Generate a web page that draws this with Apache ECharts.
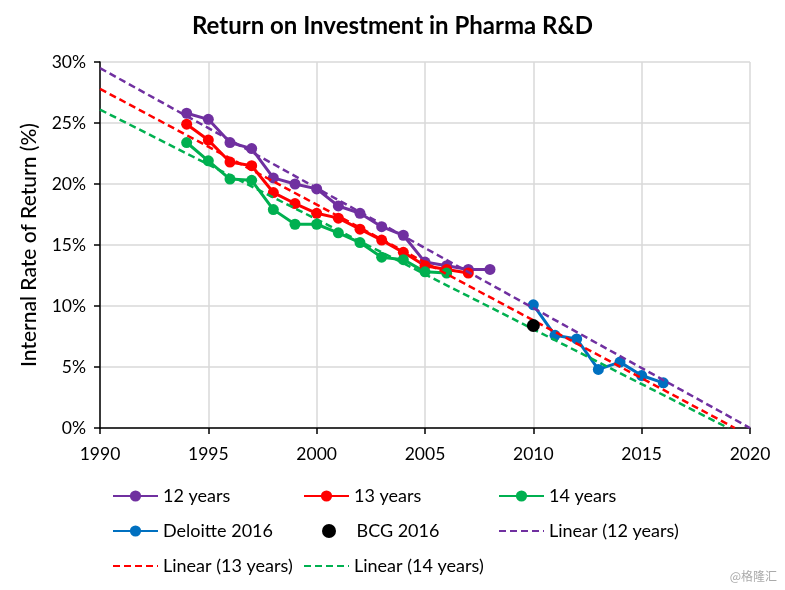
<!DOCTYPE html>
<html><head><meta charset="utf-8">
<script src="https://cdn.jsdelivr.net/npm/echarts@6/dist/echarts.min.js"></script>
<style>html,body{margin:0;padding:0;background:#fff}#c{width:785px;height:590px}</style>
</head><body><div id="c"></div>
<script>
const years12 = [1994,1995,1996,1997,1998,1999,2000,2001,2002,2003,2004,2005,2006,2007,2008];
const irr12 = [25.8,25.3,23.4,22.9,20.5,20.0,19.6,18.2,17.6,16.5,15.8,13.6,13.3,13.0,13.0];
const years13 = [1994,1995,1996,1997,1998,1999,2000,2001,2002,2003,2004,2005,2006,2007];
const irr13 = [24.9,23.6,21.8,21.5,19.3,18.4,17.6,17.2,16.3,15.4,14.4,13.3,13.0,12.7];
const years14 = [1994,1995,1996,1997,1998,1999,2000,2001,2002,2003,2004,2005,2006];
const irr14 = [23.4,21.9,20.4,20.3,17.9,16.7,16.7,16.0,15.2,14.0,13.8,12.8,12.7];
const yearsDeloitte = [2010,2011,2012,2013,2014,2015,2016];
const irrDeloitte = [10.1,7.6,7.3,4.8,5.4,4.3,3.7];
const bcgYear = [2010];
const bcgIrr = [8.4];
const trend12X = [1990, 2020.0];
const trend12Y = [29.5, 0];
const trend13X = [1990, 2019.3];
const trend13Y = [27.8, 0];
const trend14X = [1990, 2019.0];
const trend14Y = [26.1, 0];
const xTicks = [1990, 2020, 5];
const yTicks = [0, 30, 5];

const FONT = 'Lato';
const zip = (xs, ys) => xs.map((x, i) => [x, ys[i]]);
const C12 = '#7030a0', C13 = '#ff0000', C14 = '#00b050', CD = '#0070c0', CB = '#000000';

function lineSeries(name, xs, ys, color) {
  return { name, type: 'line', data: zip(xs, ys), symbol: 'circle', symbolSize: 11,
    itemStyle: { color }, lineStyle: { color, width: 3 }, z: 3 };
}
function trendSeries(name, xs, ys, color) {
  return { name, type: 'line', data: zip(xs, ys), symbol: 'none', showSymbol: false, silent: true,
    lineStyle: { color, width: 2.5, type: [7, 4] }, itemStyle: { color }, z: 4 };
}
const legendRows = [
  ['12 years', 107, 494, false], ['13 years', 298, 494, false], ['14 years', 493, 494, false],
  ['Deloitte 2016', 107, 529, false], ['BCG 2016', 317, 529, false], ['Linear (12 years)', 493, 529, true],
  ['Linear (13 years)', 107, 564, true], ['Linear (14 years)', 298, 564, true]
];
const legends = legendRows.map(([n, l, t, trend]) => ({
  data: [trend ? { name: n, itemStyle: { opacity: 0 } } : { name: n }],
  left: l, top: t - 12, itemWidth: 45, itemHeight: 14, itemGap: 0,
  textStyle: { fontFamily: FONT, fontSize: 18, color: '#000' },
  selectedMode: false
}));

const chart = echarts.init(document.getElementById('c'), null, { renderer: 'canvas' });
chart.setOption({
  animation: false,
  backgroundColor: '#fff',
  title: { text: 'Return on Investment in Pharma R&D', left: 'center', top: 9,
    textStyle: { fontFamily: FONT, fontWeight: 'bold', fontSize: 24, color: '#000' } },
  legend: legends,
  grid: { left: 100, right: 35, top: 62, bottom: 162, containLabel: false },
  xAxis: { type: 'value', min: xTicks[0], max: xTicks[1], interval: xTicks[2],
    axisLine: { onZero: false, lineStyle: { color: '#000', width: 1.5 } },
    axisTick: { show: true, length: 6, lineStyle: { color: '#000', width: 1.5 } },
    axisLabel: { fontFamily: FONT, fontSize: 17.5, color: '#000', margin: 17, formatter: v => String(v) },
    splitLine: { show: true, lineStyle: { color: '#d9d9d9', width: 1.5 } } },
  yAxis: { type: 'value', min: yTicks[0], max: yTicks[1], interval: yTicks[2],
    name: 'Internal Rate of Return (%)', nameLocation: 'middle', nameGap: 60,
    nameTextStyle: { fontFamily: FONT, fontSize: 21, color: '#000', fontWeight: 500 },
    axisLine: { show: true, lineStyle: { color: '#000', width: 1.5 } },
    axisTick: { show: true, length: 6, lineStyle: { color: '#000', width: 1.5 } },
    axisLabel: { fontFamily: FONT, fontSize: 17.5, color: '#000', margin: 14, formatter: v => v + '%' },
    splitLine: { show: true, lineStyle: { color: '#d9d9d9', width: 1.5 } } },
  series: [
    lineSeries('12 years', years12, irr12, C12),
    lineSeries('13 years', years13, irr13, C13),
    lineSeries('14 years', years14, irr14, C14),
    lineSeries('Deloitte 2016', yearsDeloitte, irrDeloitte, CD),
    { name: 'BCG 2016', type: 'scatter', data: zip(bcgYear, bcgIrr), symbol: 'circle', symbolSize: 13,
      itemStyle: { color: CB, opacity: 1 }, z: 5 },
    trendSeries('Linear (12 years)', trend12X, trend12Y, C12),
    trendSeries('Linear (13 years)', trend13X, trend13Y, C13),
    trendSeries('Linear (14 years)', trend14X, trend14Y, C14)
  ],
  graphic: [{ type: 'text', right: 8, top: 570,
    style: { text: '@格隆汇', fill: '#aaaaaa', fontSize: 12, fontFamily: 'Noto Sans CJK SC' } }]
});
</script></body></html>
